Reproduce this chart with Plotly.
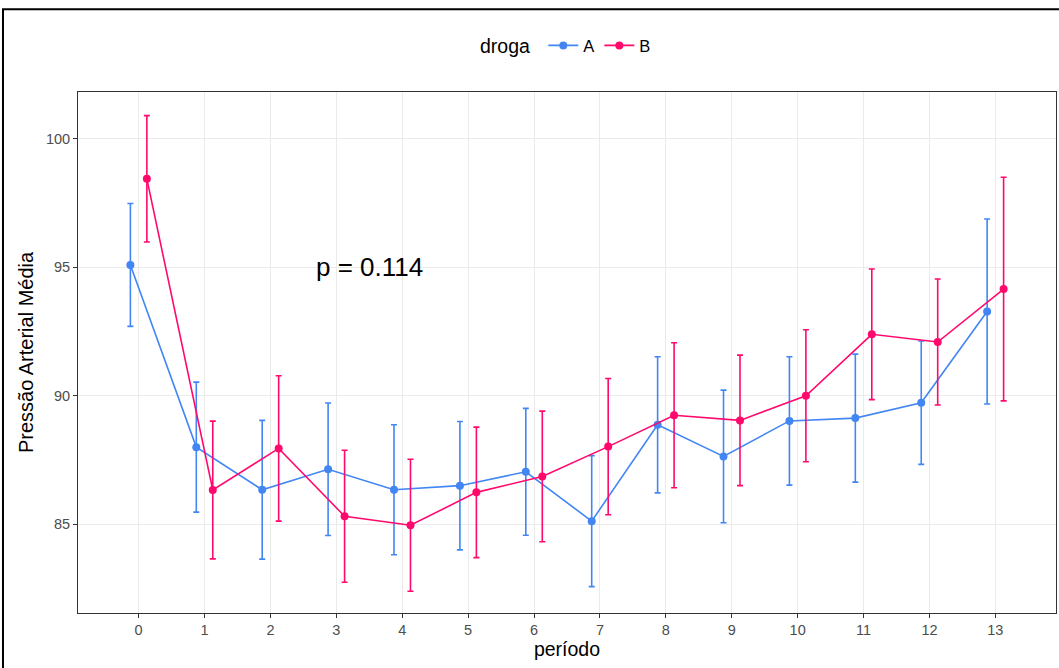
import plotly.graph_objects as go

periodos = list(range(14))
tick_labels = [str(p) for p in periodos]

media_A = [95.09, 88.00, 86.34, 87.14, 86.34, 86.50, 87.04, 85.12, 88.87, 87.64, 89.02, 89.13, 89.73, 93.28]
erro_A  = [2.39, 2.53, 2.70, 2.58, 2.53, 2.50, 2.47, 2.55, 2.65, 2.58, 2.50, 2.49, 2.40, 3.60]
media_B = [98.44, 86.33, 87.95, 85.31, 84.96, 86.24, 86.86, 88.02, 89.24, 89.04, 90.00, 92.39, 92.09, 94.15]
erro_B  = [2.46, 2.68, 2.83, 2.57, 2.57, 2.54, 2.54, 2.65, 2.82, 2.54, 2.57, 2.54, 2.45, 4.35]

cor_A = "#4286f4"
cor_B = "#ff0a6c"
dodge = 0.125

fig = go.Figure()
for nome, med, err, cor, sgn in [("A", media_A, erro_A, cor_A, -1), ("B", media_B, erro_B, cor_B, 1)]:
    fig.add_trace(go.Scatter(
        x=[p + sgn * dodge for p in periodos], y=med, name=nome,
        mode="lines+markers",
        line=dict(color=cor, width=1.6),
        marker=dict(color=cor, size=8),
        error_y=dict(type="data", array=err, visible=True, color=cor, thickness=1.6, width=3),
    ))

fig.add_annotation(x=3.5, y=95, text="p = 0.114", showarrow=False,
                   font=dict(size=26, color="black"), xref="x", yref="y")

axis_common = dict(showline=True, linecolor="#333333", linewidth=1, mirror=True,
                   showgrid=True, gridcolor="#ebebeb", gridwidth=1.3,
                   ticks="outside", ticklen=4, tickcolor="#333333",
                   tickfont=dict(size=14.5, color="#4d4d4d"), zeroline=False)

fig.update_xaxes(range=[-0.92, 13.92], tickvals=periodos, ticktext=tick_labels,
                 title=dict(text="período", font=dict(size=19.5, color="black"), standoff=4),
                 **axis_common)
fig.update_yaxes(range=[81.545, 101.82], tickvals=[85, 90, 95, 100],
                 title=dict(text="Pressão Arterial Média", font=dict(size=20, color="black"), standoff=6),
                 **axis_common)

fig.add_shape(type="rect", xref="paper", yref="paper",
              x0=-0.0767, y0=-0.3, x1=1.2, y1=1.159,
              line=dict(color="black", width=2), layer="above")

fig.update_layout(
    width=1059, height=668,
    margin=dict(l=78, r=3, t=92, b=55),
    paper_bgcolor="white", plot_bgcolor="white",
    font=dict(family="Arial, Liberation Sans, sans-serif", color="black"),
    showlegend=True,
    legend=dict(orientation="h", x=0.5, xanchor="center", y=1.088, yanchor="middle",
                title=dict(text="droga ", font=dict(size=19.5)),
                font=dict(size=16.5), itemwidth=30),
)

fig.write_html("out.html", post_script="document.body.style.margin='0';",
               config={"displayModeBar": False})
